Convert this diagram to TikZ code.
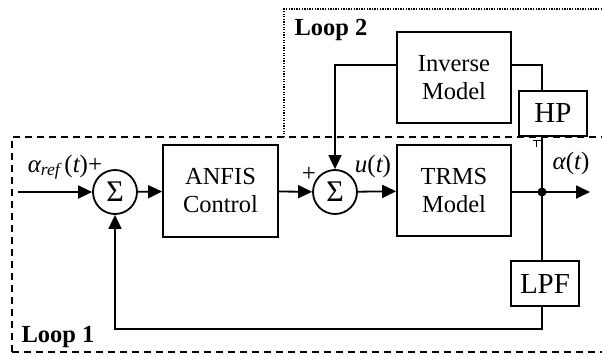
\documentclass[tikz,border=0pt]{standalone}
\usepackage{fontspec}
\setmainfont{Liberation Serif}
\usetikzlibrary{arrows.meta}

\tikzset{
  wire/.style={line width=1.8pt},
  sig/.style={wire, -{Triangle[length=14pt,width=13pt]}},
  block/.style={draw, line width=1.8pt, rectangle, align=center, inner sep=0pt,
                font=\fontsize{24.5}{28}\selectfont},
  filt/.style={draw, line width=1.8pt, rectangle, inner sep=0pt,
               font=\fontsize{29}{31}\selectfont},
  summer/.style={draw, line width=1.8pt, circle, minimum size=44pt, inner sep=0pt,
                 font=\fontsize{30}{30}\selectfont},
  lbl/.style={font=\fontsize{25}{26}\selectfont, inner sep=0pt},
  looplbl/.style={font=\fontsize{24.5}{26}\selectfont\bfseries, inner sep=0pt},
}

\begin{document}
\begin{tikzpicture}[x=1pt, y=-1pt]
  \useasboundingbox (0,0) rectangle (602,354);
  \clip (0,0) rectangle (602,354);

  % loop regions
  \draw[line width=1.6pt, dash pattern=on 7pt off 5pt] (12,352) -- (12,137) -- (620,137);
  \draw[line width=1.6pt, dash pattern=on 7pt off 5pt] (12,352) -- (620,352);
  \draw[line width=1.4pt, dash pattern=on 1.3pt off 1.3pt] (284,137) -- (284,9) -- (620,9);
  \node[looplbl] (l1) at (58,337) {Loop 1};
  \node[looplbl] (l2) at (331,30) {Loop 2};

  % blocks
  \node[summer] (s1) at (115,192) {Σ};
  \node[block, minimum width=115pt, minimum height=92pt] (anfis) at (220.5,191) {ANFIS\\Control};
  \node[summer] (s2) at (335,192) {Σ};
  \node[block, minimum width=114pt, minimum height=91pt] (trms) at (454,190.5) {TRMS\\Model};
  \node[block, minimum width=114pt, minimum height=91pt] (inv) at (454,77.5) {Inverse\\Model};
  \node[filt, minimum width=68pt, minimum height=45pt] (hp) at (553,113.5) {HP};
  \node[filt, minimum width=68pt, minimum height=45pt] (lpf) at (545,283.5) {LPF};

  % signal points
  \coordinate (in) at (18,192);
  \coordinate (tap) at (542,192);
  \coordinate (out) at (590,192);
  \coordinate (fbc) at (542,329);
  \coordinate (invr) at (542,65);
  \coordinate (invl) at (335,65);

  % forward path
  \draw[sig] (in) -- (s1);
  \draw[sig] (s1) -- (anfis);
  \draw[sig] (anfis) -- (s2);
  \draw[sig] (s2) -- (trms);
  \draw[wire] (trms.east |- tap) -- (tap);
  \draw[sig] (tap) -- (out);
  \fill (tap) circle (4.5pt);

  % loop 1: low-pass feedback
  \draw[wire] (tap) -- (tap |- lpf.north);
  \draw[sig] (fbc |- lpf.south) -- (fbc) -| (s1.south);

  % loop 2: high-pass and inverse model
  \draw[wire] (tap) -- (tap |- hp.south);
  \draw[wire] (invr |- hp.north) -- (invr) -- (invr -| inv.east);
  \draw[sig] (invl -| inv.west) -- (invl) -- (s2.north);
  \draw[line width=1.8pt] (533,140.5) -- (541,140.5) (536.5,140.5) -- (536.5,147);

  % labels
  \node[lbl, anchor=base] (aref) at (65,172) {\itshape α\textsubscript{\itshape ref}\,\upshape(\itshape t\upshape)+};
  \node[lbl] (p2) at (309,174) {+};
  \node[lbl, anchor=base] (ut) at (373,172) {\itshape u\upshape(\itshape t\upshape)};
  \node[lbl, anchor=base] (at) at (571,169) {\itshape α\upshape(\itshape t\upshape)};
\end{tikzpicture}
\end{document}
